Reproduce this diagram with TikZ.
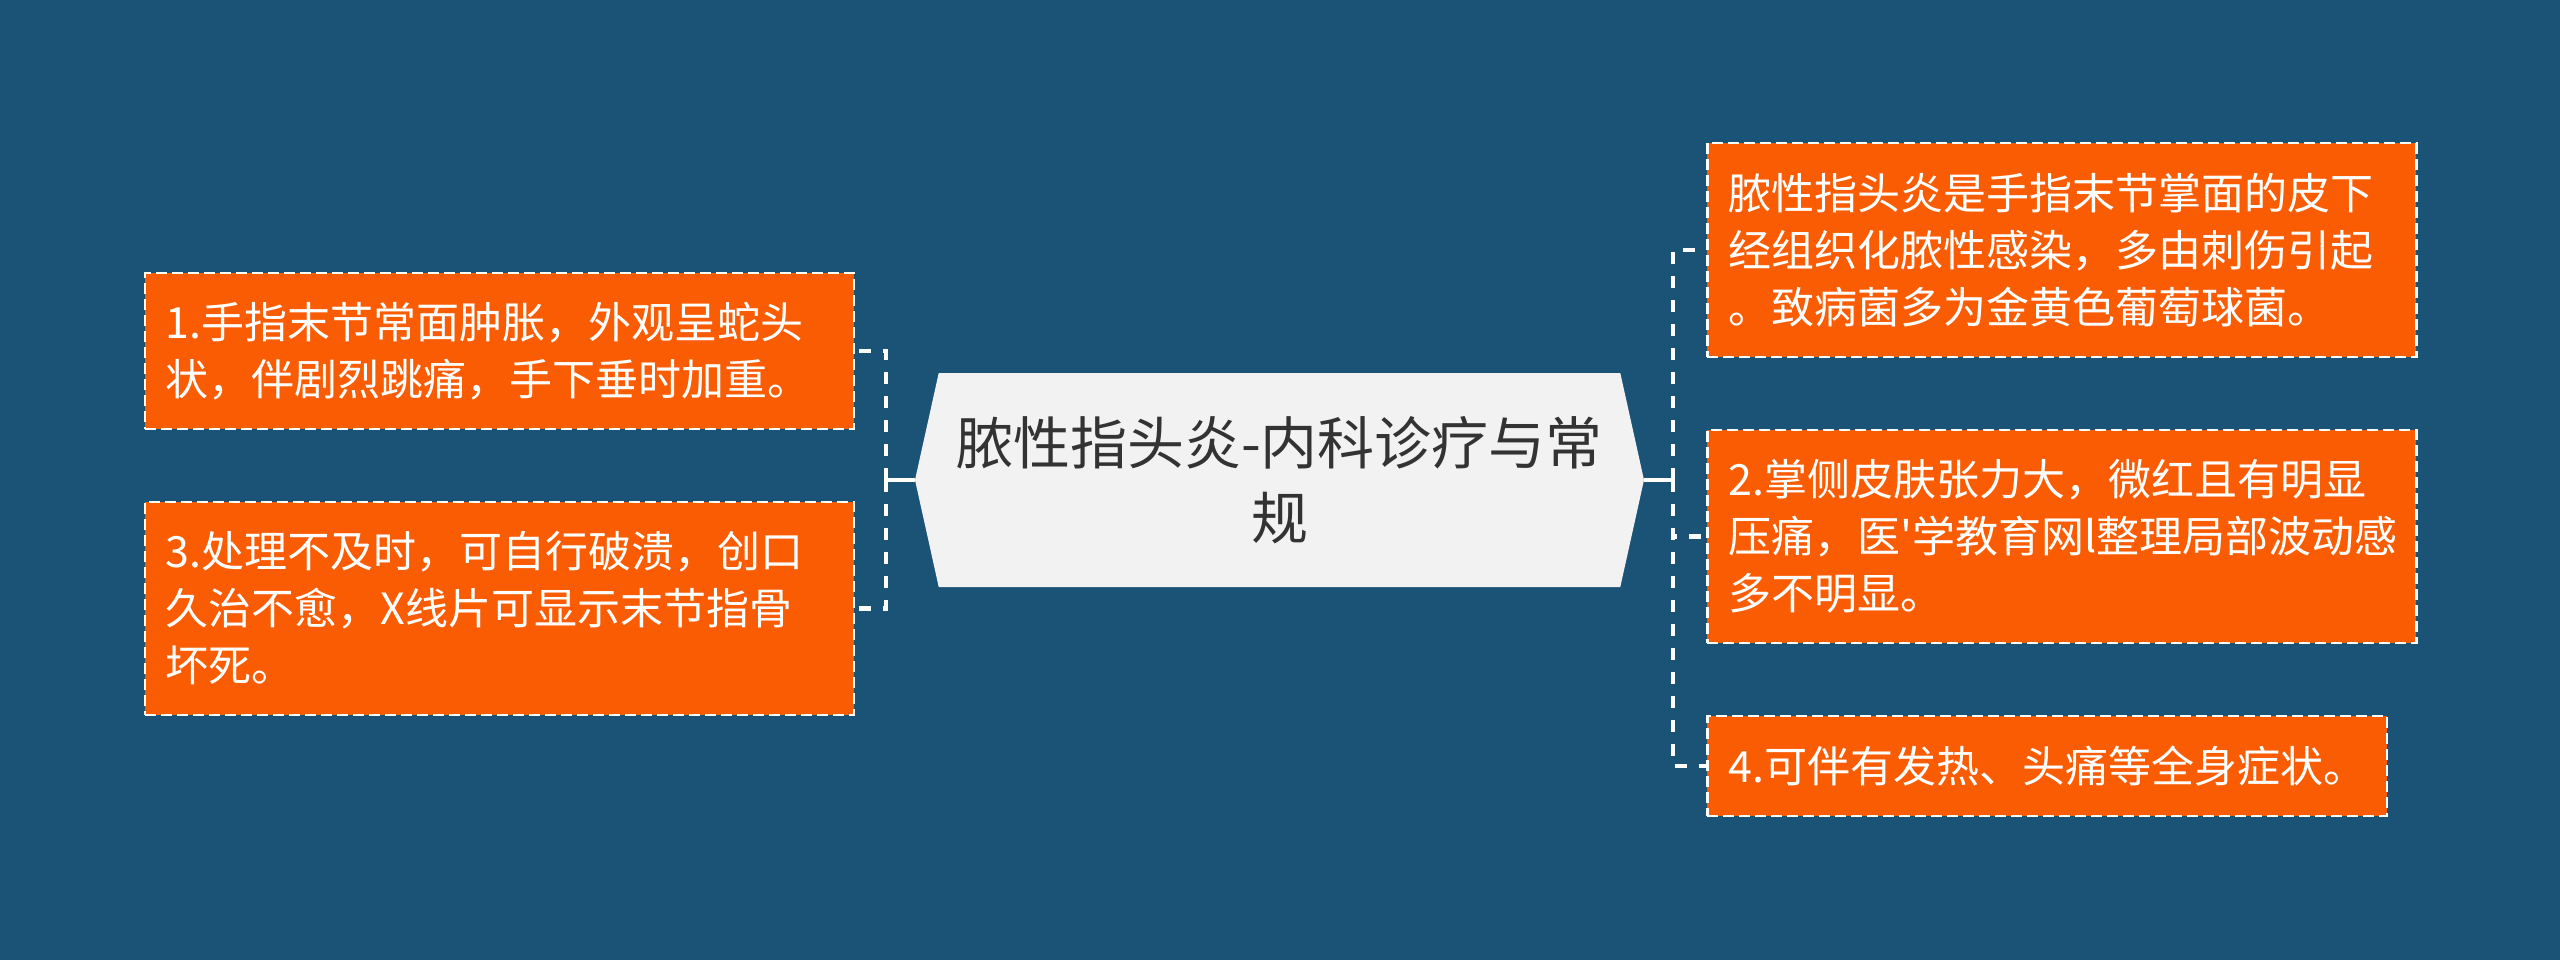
\documentclass[tikz,border=0pt]{standalone}
\usepackage{fontspec}
\newfontfamily\cjk{Noto Sans CJK SC}
\usetikzlibrary{shapes.symbols}

\definecolor{bgblue}{RGB}{26,83,118}
\definecolor{leaforange}{RGB}{250,92,4}
\definecolor{rootgray}{RGB}{242,242,242}
\definecolor{roottext}{RGB}{51,51,51}

\tikzset{
  leaf/.style={draw=white, line width=2.5pt, dash pattern=on 11pt off 5pt,
    fill=leaforange, text=white, font=\cjk\fontsize{43}{57}\selectfont,
    align=left, inner xsep=21pt, inner ysep=10pt},
  wide/.style={text width=667pt},
  link/.style={draw=white, line width=4.5pt, dash pattern=on 12pt off 12pt},
  stem/.style={draw=white, line width=4.5pt},
}

\begin{document}
\begin{tikzpicture}[x=1pt,y=-1pt]

% background
\fill[bgblue] (0,0) rectangle (2560,960);

% centre
\node (root) [signal, signal to=west and east, signal pointer angle=155,
  fill=rootgray, text=roottext, font=\cjk\fontsize{57}{75}\selectfont,
  align=center, minimum width=729pt, minimum height=214pt, inner sep=0pt]
  at (1279.5,480) {脓性指头炎-内科诊疗与常\\规};

% left side
\node (sym1) [leaf, wide, anchor=east, minimum height=156pt] at (855,351)
  {1.手指末节常面肿胀，外观呈蛇头\\状，伴剧烈跳痛，手下垂时加重。};
\node (sym3) [leaf, wide, anchor=east, minimum height=213pt] at (855,608.5)
  {3.处理不及时，可自行破溃，创口\\久治不愈，X线片可显示末节指骨\\坏死。};

% right side
\node (def) [leaf, wide, anchor=west, minimum height=214pt] at (1706,250)
  {脓性指头炎是手指末节掌面的皮下\\经组织化脓性感染，多由刺伤引起\\。致病菌多为金黄色葡萄球菌。};
\node (sym2) [leaf, wide, anchor=west, minimum height=213pt] at (1706,536.5)
  {2.掌侧皮肤张力大，微红且有明显\\压痛，医'学教育网l整理局部波动感\\多不明显。};
\node (sym4) [leaf, anchor=west, minimum height=100pt] at (1706,766)
  {4.可伴有发热、头痛等全身症状。};

% connectors
\coordinate (lj) at (886,480);
\coordinate (rj) at (1673,480);
\draw[stem] (root.west) -- (lj);
\draw[stem] (root.east) -- (rj);
\draw[link] (lj) |- (sym1.east);
\draw[link] (lj) |- (sym3.east);
\draw[link] (rj) |- (def.west);
\draw[link] (rj) |- (sym2.west);
\draw[link] (rj) |- (sym4.west);
\end{tikzpicture}
\end{document}
